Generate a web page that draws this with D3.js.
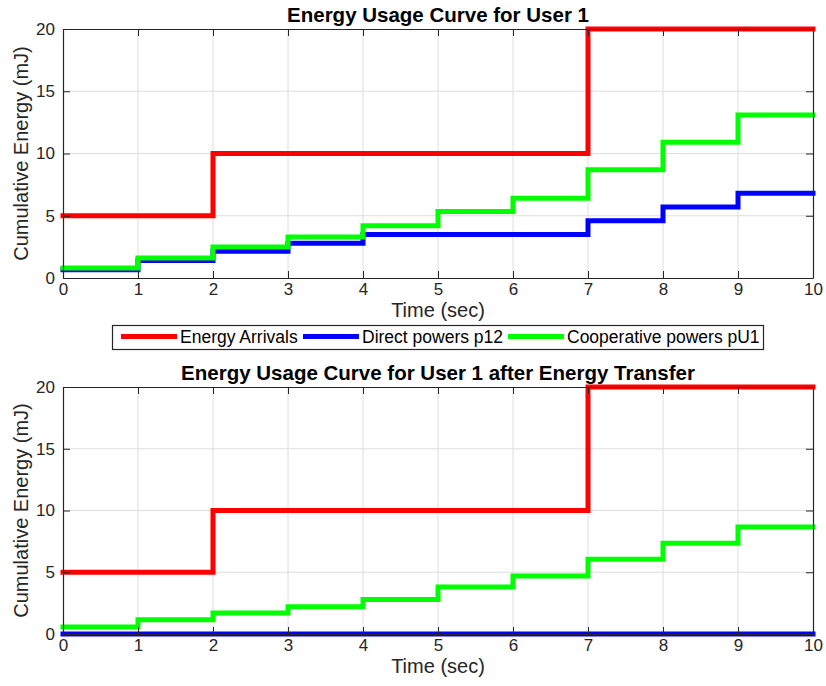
<!DOCTYPE html>
<html>
<head>
<meta charset="utf-8">
<script src="https://cdn.jsdelivr.net/npm/d3@7"></script>
<style>
body{margin:0;background:#fff;}
svg{font-family:"Liberation Sans",Arial,sans-serif;}
.grid line{stroke:#dedede;stroke-width:1;}
.axis text{font-size:17px;fill:#262626;}
</style>
</head>
<body>
<div class="chart"></div>
<script>
// values per one-second slot, t = 0..9 (last value held until t = 10)
const times = [0,1,2,3,4,5,6,7,8,9,10];
const xTicks = [0,1,2,3,4,5,6,7,8,9,10];
const yTicks = [0,5,10,15,20];
const seriesNames = ['Energy Arrivals','Direct powers p12','Cooperative powers pU1'];
const seriesColors = ['#ff0000','#0000ff','#00ff00'];

const arrivals1 = [5,5,10,10,10,10,10,20,20,20];
const direct1 = [0.67,1.4,2.15,2.8,3.5,3.5,3.5,4.6,5.7,6.8];
const coop1 = [0.8,1.6,2.5,3.3,4.2,5.35,6.4,8.7,10.9,13.1];

const arrivals2 = [5,5,10,10,10,10,10,20,20,20];
const direct2 = [0,0,0,0,0,0,0,0,0,0];
const coop2 = [0.57,1.16,1.7,2.2,2.8,3.8,4.7,6.05,7.35,8.67];

const svg = d3.select('.chart').append('svg').attr('width',826).attr('height',686);

function toPoints(vals){
    const pts = vals.map((v,i)=>({t:times[i],v:v}));
    pts.push({t:times[10],v:vals[vals.length-1]});
    return pts;
}

function drawPanel(top,bottom,title,series){
    const left = 63, right = 813;
    const x = d3.scaleLinear().domain([0,10]).range([left,right]);
    const y = d3.scaleLinear().domain([0,20]).range([bottom,top]);
    const g = svg.append('g');

    // grid
    g.append('g').attr('class','grid').selectAll('line.v').data(xTicks.slice(1,-1)).enter()
     .append('line').attr('x1',d=>x(d)).attr('x2',d=>x(d)).attr('y1',top).attr('y2',bottom);
    g.append('g').attr('class','grid').selectAll('line.h').data(yTicks.slice(1,-1)).enter()
     .append('line').attr('x1',left).attr('x2',right).attr('y1',d=>y(d)).attr('y2',d=>y(d));

    // lines
    const line = d3.line().x(d=>x(d.t)).y(d=>y(d.v)).curve(d3.curveStepAfter);
    series.forEach((s,i)=>{
        g.append('path').datum(toPoints(s)).attr('d',line)
         .attr('fill','none').attr('stroke',seriesColors[i]).attr('stroke-width',5)
         .attr('stroke-linejoin','miter').attr('stroke-linecap','square');
    });

    // axes (ticks inside, box)
    const axStyle = a => a.select('.domain').attr('stroke','#262626').attr('stroke-width',1.2);
    const xa = g.append('g').attr('class','axis').attr('transform',`translate(0,${bottom})`)
        .call(d3.axisBottom(x).tickValues(xTicks).tickSizeInner(-7).tickSizeOuter(0).tickPadding(5));
    xa.call(axStyle);
    xa.selectAll('.tick line').attr('stroke','#262626');
    g.append('g').attr('transform',`translate(0,${top})`)
        .call(d3.axisTop(x).tickValues(xTicks).tickSizeInner(-7).tickSizeOuter(0).tickFormat(''))
        .call(axStyle).selectAll('.tick line').attr('stroke','#262626');
    const ya = g.append('g').attr('class','axis').attr('transform',`translate(${left},0)`)
        .call(d3.axisLeft(y).tickValues(yTicks).tickSizeInner(-7).tickSizeOuter(0).tickPadding(8));
    ya.call(axStyle);
    ya.selectAll('.tick line').attr('stroke','#262626');
    g.append('g').attr('transform',`translate(${right},0)`)
        .call(d3.axisRight(y).tickValues(yTicks).tickSizeInner(-7).tickSizeOuter(0).tickFormat(''))
        .call(axStyle).selectAll('.tick line').attr('stroke','#262626');

    g.append('text').attr('x',(left+right)/2).attr('y',top-7.5).attr('text-anchor','middle')
     .style('font-size','20.5px').style('font-weight','bold').text(title);
    g.append('text').attr('x',(left+right)/2).attr('y',bottom+39).attr('text-anchor','middle')
     .style('font-size','20px').style('fill','#262626').text('Time (sec)');
    g.append('text').attr('transform',`translate(28,${(top+bottom)/2}) rotate(-90)`)
     .attr('text-anchor','middle').style('font-size','20px').style('fill','#262626')
     .text('Cumulative Energy (mJ)');
}

drawPanel(29,278,'Energy Usage Curve for User 1',[arrivals1,direct1,coop1]);
drawPanel(387,634,'Energy Usage Curve for User 1 after Energy Transfer',[arrivals2,direct2,coop2]);

// legend
const legend = svg.append('g');
legend.append('rect').attr('x',112.5).attr('y',325.5).attr('width',651).attr('height',24)
    .attr('fill','#fff').attr('stroke','#262626').attr('stroke-width',1.2);
const legX = [121,303,508];
seriesNames.forEach((name,i)=>{
    legend.append('line').attr('x1',legX[i]).attr('x2',legX[i]+56).attr('y1',336.5).attr('y2',336.5)
        .attr('stroke',seriesColors[i]).attr('stroke-width',5);
    legend.append('text').attr('x',legX[i]+59).attr('y',342.5).style('font-size','17.5px')
        .style('fill','#000').text(name);
});
</script>
</body>
</html>
